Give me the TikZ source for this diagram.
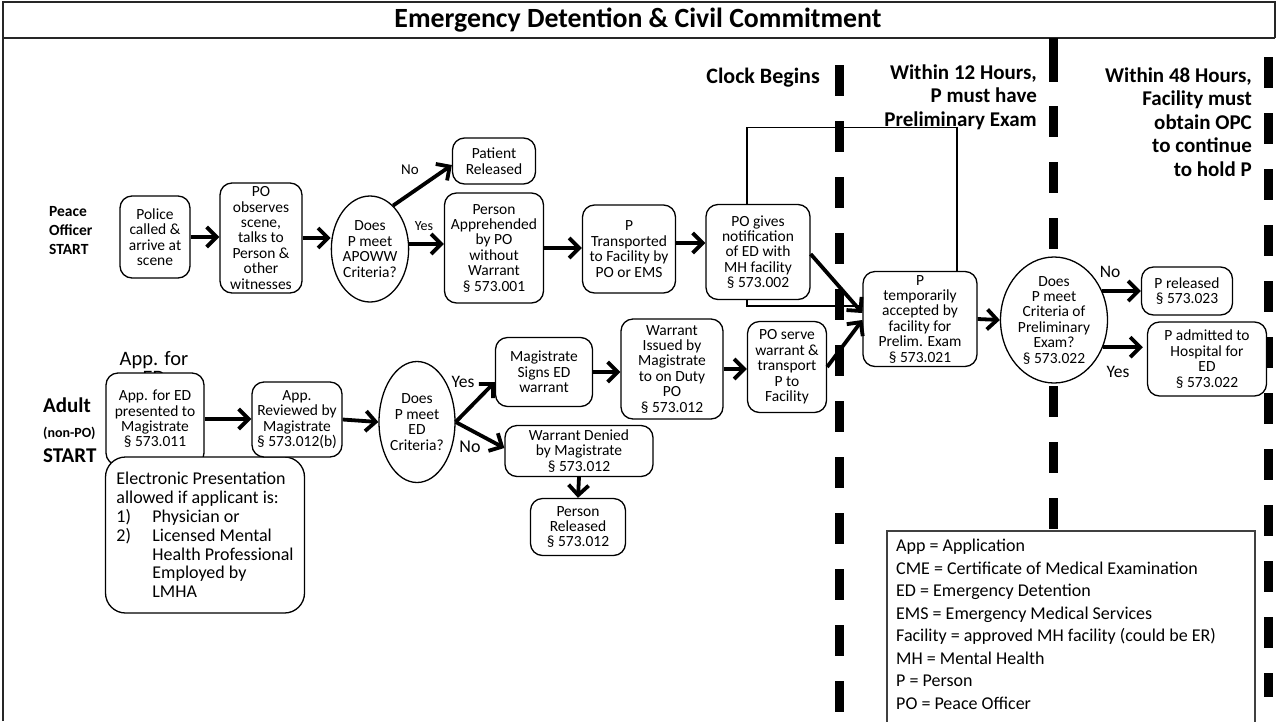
\documentclass[tikz,border=0pt]{standalone}
\usepackage{fontspec}
\setmainfont{Carlito}
\usetikzlibrary{arrows.meta,shapes.geometric,calc}

\newcommand{\fsz}[2]{\fontsize{#1}{#2}\selectfont}

\begin{document}
\begin{tikzpicture}[x=1pt,y=-1pt,
  box/.style={draw, rounded corners=12pt, line width=1.3pt, fill=white,
    align=center, inner sep=1pt, font=\fsz{15.5}{15.4}},
  decision/.style={draw, ellipse, line width=1.3pt, fill=white,
    align=center, inner sep=0pt, font=\fsz{15.5}{15.4}},
  flow/.style={line width=3.8pt, -{Straight Barb[length=10pt,width=20pt]}},
  thinline/.style={line width=1.2pt},
  tick/.style={line width=9pt},
  frameline/.style={line width=2pt, black!85},
  hdr/.style={font=\bfseries\fsz{21}{23.5}, align=right, inner sep=0pt},
  choice/.style={inner sep=0pt, font=\fsz{17.5}{20}},
]
\useasboundingbox (0,0) rectangle (1277,721);

% outer frame and title bar
\draw[frameline] (3,721) -- (3,2) -- (1275,2) -- (1275,38);
\draw[frameline] (3,38) -- (1275,38);
\node[font=\bfseries\fsz{27.8}{30}] (title) at (638,20) {Emergency Detention \& Civil Commitment};

% time limits, drawn as heavy dashes
\foreach \s in {65,121,...,681} \draw[tick] (839,\s) -- ++(0,31);
\draw[tick] (1053,38) -- (1053,82);
\foreach \s in {106,162,...,498} \draw[tick] (1053,\s) -- ++(0,31);
\foreach \s in {57,113,...,617} \draw[tick] (1268,\s) -- ++(0,31);
\draw[tick] (1268,673) -- (1268,697);

\node[hdr, anchor=east] (clock) at (820,78) {\fsz{22}{24}Clock Begins};
\node[hdr, anchor=east] (h12) at (1037,97) {Within 12 Hours,\\P must have\\Preliminary Exam};
\node[hdr, anchor=east] (h48) at (1252,122) {Within 48 Hours,\\Facility must\\obtain OPC\\to continue\\to hold P};

% start labels
\node[anchor=west, align=left, inner sep=0pt, font=\bfseries\fsz{15.5}{19}] (postart) at (49,231) {Peace\\Officer\\START};
\node[anchor=west, align=left, inner sep=0pt, font=\bfseries\fsz{21}{25}] (adstart) at (43,430)
  {Adult\\{\fsz{14}{25}(non-PO)}\\START};

% peace officer path
\node[box, minimum width=70pt, minimum height=82pt] (police) at (155,237) {Police\\called \&\\arrive at\\scene};
\node[box, minimum width=82pt, minimum height=110pt] (observe) at (261,238) {PO\\observes\\scene,\\talks to\\Person \&\\other\\witnesses};
\node[decision, minimum width=76pt, minimum height=106pt] (q1) at (370,249) {Does\\P meet\\APOWW\\Criteria?};
\node[box, minimum width=83pt, minimum height=46pt] (pr) at (494,161) {Patient\\Released};
\node[box, minimum width=99pt, minimum height=110pt] (appr) at (494,248) {Person\\Apprehended\\by PO\\without\\Warrant\\§ 573.001};
\node[box, minimum width=93pt, minimum height=88pt] (transp) at (629,249) {P\\Transported\\to Facility by\\PO or EMS};
\node[box, minimum width=104pt, minimum height=95pt] (notif) at (758,252) {PO gives\\notification\\of ED with\\MH facility\\§ 573.002};

% facility
\node[box, minimum width=114pt, minimum height=95pt] (ptemp) at (920,319) {P\\temporarily\\accepted by\\facility for\\Prelim. Exam\\§ 573.021};
\node[decision, inner sep=-2pt, minimum width=107pt, minimum height=126pt] (q2) at (1054,320) {Does\\P meet\\Criteria of\\Preliminary\\Exam?\\§ 573.022};
\node[box, minimum width=91pt, minimum height=48pt] (rel2) at (1187,291) {P released\\§ 573.023};
\node[box, minimum width=119pt, minimum height=74pt] (adm) at (1207,359) {P admitted to\\Hospital for\\ED\\§ 573.022};

% adult (non-PO) path
\node[align=center, inner sep=0pt, anchor=north, font=\fsz{20.5}{19}] (apphead) at (154,351) {App. for\\ED};
\node[box, minimum width=98pt, minimum height=92pt] (app) at (155,419) {App. for ED\\presented to\\Magistrate\\§ 573.011};
\node[draw, rounded corners=20pt, line width=1.3pt, fill=white, align=left, inner sep=0pt,
  minimum width=199pt, minimum height=156pt, font=\fsz{18}{18.8}] (ebox) at (205,535)
  {Electronic Presentation\\allowed if applicant is:\\
   \makebox[36pt][l]{1)}Physician or\\
   \makebox[36pt][l]{2)}Licensed Mental\\
   \hspace*{36pt}Health Professional\\
   \hspace*{36pt}Employed by\\
   \hspace*{36pt}LMHA};
\node[box, minimum width=90pt, minimum height=75pt] (rev) at (297,419.5) {App.\\Reviewed by\\Magistrate\\§ 573.012(b)};
\node[decision, minimum width=76pt, minimum height=121pt] (q3) at (417,422) {Does\\P meet\\ED\\Criteria?};
\node[box, minimum width=97pt, minimum height=69pt] (sign) at (544,372) {Magistrate\\Signs ED\\warrant};
\node[box, minimum width=102pt, minimum height=100pt] (issued) at (672,369) {Warrant\\Issued by\\Magistrate\\to on Duty\\PO\\§ 573.012};
\node[box, minimum width=79pt, minimum height=91pt] (serve) at (787,367) {PO serve\\warrant \&\\transport\\P to\\Facility};
\node[box, minimum width=148pt, minimum height=51pt] (denied) at (579,451) {Warrant Denied\\by Magistrate\\§ 573.012};
\node[box, minimum width=95pt, minimum height=57pt] (prel) at (578,527) {Person\\Released\\§ 573.012};

% thin bracket lines from the notification box
\draw[thinline] ([xshift=-11pt]notif.north) -- ++(0,-76) -| ([xshift=37pt]ptemp.north);
\draw[thinline] ([xshift=-11pt]notif.south) |- ([yshift=13pt]ptemp.west);

% connectors
\draw[flow] (police.east) -- (police.east -| observe.west);
\draw[flow] (observe.east) -- (observe.east -| q1.west);
\draw[flow] (q1.62) -- ([yshift=-4pt]pr.west);
\draw[flow] ([yshift=5pt]q1.east) -- ([yshift=5pt]q1.east -| appr.west);
\draw[flow] (appr.east) -- (appr.east -| transp.west);
\draw[flow] ([yshift=6pt]transp.east) -- ([yshift=6pt]transp.east -| notif.west);
\draw[flow] ([yshift=-2pt]notif.east) -- ([yshift=6pt]ptemp.west);
\draw[flow] (serve.east) -- ([yshift=-1pt]ptemp.west);
\draw[flow] (ptemp.east) -- (q2.west);
\draw[flow] (q2.31) -- (q2.31 -| rel2.west);
\draw[flow] (q2.-29) -- ([xshift=-4pt]q2.-29 -| adm.west);

\draw[flow] (app.east) -- (app.east -| rev.west);
\draw[flow] (rev.east) -- (q3.west);
\draw[flow] (q3.east) -- ([yshift=-10pt]sign.west);
\draw[flow] (q3.east) -- ([yshift=3pt]denied.west);
\draw[flow] (denied.south) -- (prel.north);
\draw[flow] (sign.east) -- (sign.east -| issued.west);
\draw[flow] (issued.east) -- (issued.east -| serve.west);

% branch labels
\node[choice, font=\fsz{15}{17}] (no1) at (410,170) {No};
\node[choice, font=\fsz{14}{16}] (yes1) at (424,226) {Yes};
\node[choice] (yes3) at (463,382) {Yes};
\node[choice, font=\fsz{18}{20}] (no3) at (470,447) {No};
\node[choice] (no2) at (1110,272) {No};
\node[choice] (yes2) at (1118,372) {Yes};

% abbreviations
\draw[line width=1.3pt, black!75, fill=white] (887,531) rectangle (1255,740);
\node[anchor=north west, align=left, inner sep=0pt, font=\fsz{18}{22.5}] (legend) at (896,539)
  {App = Application\\
   CME = Certificate of Medical Examination\\
   ED = Emergency Detention\\
   EMS = Emergency Medical Services\\
   Facility = approved MH facility (could be ER)\\
   MH = Mental Health\\
   P = Person\\
   PO = Peace Officer};
\end{tikzpicture}
\end{document}
